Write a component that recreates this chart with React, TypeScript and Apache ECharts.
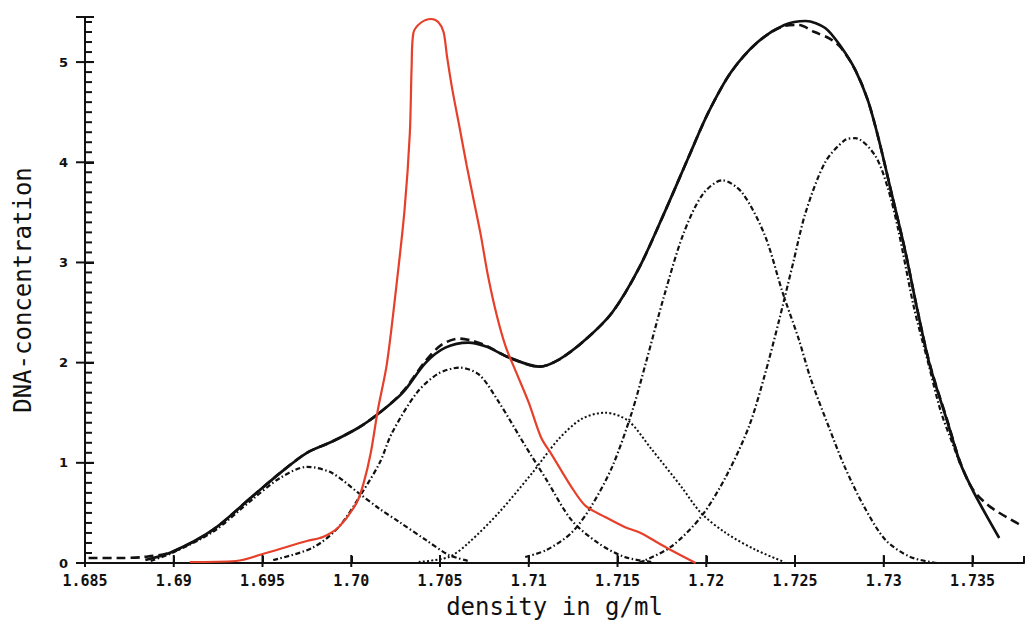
import React, { useEffect, useRef } from "react";
import * as echarts from "echarts";

// ---- axis setup ----
const X_MIN = 1.685;
const X_MAX = 1.7379;
const Y_MIN = 0;
const Y_MAX = 5.45;
const Y_MINOR_STEP = 0.1;
const xTicks = [1.685, 1.69, 1.695, 1.7, 1.705, 1.71, 1.715, 1.72, 1.725, 1.73, 1.735];
const xTickLabels = ["1.685", "1.69", "1.695", "1.70", "1.705", "1.71", "1.715", "1.72", "1.725", "1.73", "1.735"];
const yTickLabels = ["0", "1", "2", "3", "4", "5"];

// ---- curves: [density g/ml, DNA concentration] ----
const observedProfile = [
  [1.6884, 0.03], [1.6899, 0.11], [1.6922, 0.33], [1.6944, 0.66], [1.696, 0.9], [1.6975, 1.1],
  [1.6989, 1.21], [1.7004, 1.35], [1.7016, 1.5], [1.7029, 1.7], [1.7042, 2.0], [1.7053, 2.15],
  [1.7066, 2.2], [1.7076, 2.16], [1.7089, 2.05], [1.7106, 1.96], [1.7117, 2.03], [1.7132, 2.23],
  [1.7147, 2.5], [1.7162, 2.94], [1.7177, 3.52], [1.719, 4.05], [1.7201, 4.49], [1.7214, 4.90],
  [1.7229, 5.20], [1.7244, 5.37], [1.7256, 5.41], [1.7267, 5.34], [1.7276, 5.15], [1.7284, 4.92],
  [1.7291, 4.62], [1.7297, 4.24], [1.7304, 3.72], [1.7312, 3.12], [1.7319, 2.52], [1.7326, 1.97],
  [1.7336, 1.4], [1.7343, 1.0], [1.735, 0.73], [1.7357, 0.5], [1.7365, 0.25],
];

const fittedSum = [
  [1.6852, 0.05], [1.6868, 0.05], [1.6883, 0.06], [1.6899, 0.11], [1.6922, 0.33], [1.6944, 0.66],
  [1.696, 0.9], [1.6975, 1.1], [1.6989, 1.21], [1.7004, 1.35], [1.7016, 1.5], [1.7029, 1.71],
  [1.7042, 2.02], [1.7051, 2.18], [1.7061, 2.24], [1.7068, 2.22], [1.7076, 2.17], [1.7089, 2.05],
  [1.7106, 1.96], [1.7117, 2.03], [1.7132, 2.23], [1.7147, 2.5], [1.7162, 2.94], [1.7177, 3.52],
  [1.719, 4.05], [1.7201, 4.49], [1.7214, 4.9], [1.7229, 5.2], [1.7244, 5.36], [1.7252, 5.37],
  [1.7261, 5.3], [1.727, 5.23], [1.7276, 5.14], [1.7284, 4.92], [1.7291, 4.62], [1.7297, 4.24],
  [1.7304, 3.72], [1.7312, 3.12], [1.7319, 2.52], [1.7326, 1.98], [1.7336, 1.41], [1.7343, 1.01],
  [1.735, 0.74], [1.736, 0.56], [1.7377, 0.38],
];

const component1 = [
  [1.6887, 0.02], [1.6899, 0.1], [1.6922, 0.31], [1.6944, 0.63], [1.696, 0.85], [1.6975, 0.96],
  [1.6989, 0.9], [1.7004, 0.7], [1.7016, 0.54], [1.7027, 0.41], [1.7042, 0.23], [1.7055, 0.08],
  [1.7066, 0.02],
];

const component2 = [
  [1.6956, 0.03], [1.6978, 0.15], [1.6993, 0.36], [1.7006, 0.7], [1.7016, 1.0], [1.7023, 1.3],
  [1.7037, 1.7], [1.7049, 1.89], [1.7061, 1.95], [1.7072, 1.88], [1.7083, 1.61], [1.7098, 1.17],
  [1.711, 0.83], [1.7124, 0.43], [1.7139, 0.2], [1.7154, 0.06], [1.7169, 0.01],
];

const component3 = [
  [1.7038, 0.01], [1.7055, 0.06], [1.7066, 0.2], [1.7083, 0.5], [1.7102, 0.9], [1.7117, 1.24],
  [1.713, 1.44], [1.7143, 1.5], [1.7156, 1.42], [1.7169, 1.14], [1.7186, 0.76], [1.7197, 0.5],
  [1.7211, 0.3], [1.7228, 0.13], [1.7244, 0.01],
];

const component4 = [
  [1.7098, 0.06], [1.711, 0.13], [1.7124, 0.3], [1.7135, 0.56], [1.7147, 0.96], [1.7158, 1.5],
  [1.7166, 2.0], [1.7176, 2.65], [1.7187, 3.28], [1.7198, 3.68], [1.7209, 3.82], [1.722, 3.7],
  [1.7233, 3.27], [1.7243, 2.7], [1.7252, 2.24], [1.7259, 1.83], [1.7269, 1.36], [1.7278, 0.96],
  [1.7289, 0.56], [1.7301, 0.23], [1.7315, 0.06], [1.733, 0.0],
];

const component5 = [
  [1.7162, 0.0], [1.718, 0.16], [1.7197, 0.46], [1.7211, 0.86], [1.7224, 1.36], [1.7233, 1.88],
  [1.7241, 2.42], [1.7249, 3.0], [1.7256, 3.5], [1.7267, 4.0], [1.7278, 4.22], [1.7284, 4.24],
  [1.7295, 4.07], [1.7302, 3.76], [1.7308, 3.34], [1.7317, 2.55], [1.7325, 2.0], [1.7332, 1.52],
  [1.7339, 1.18], [1.7343, 0.99],
];

const redProfile = [
  [1.6909, 0.01], [1.6935, 0.02], [1.6952, 0.1], [1.6975, 0.22], [1.6984, 0.26], [1.6993, 0.36],
  [1.7003, 0.6], [1.7007, 0.8], [1.7011, 1.1], [1.7015, 1.53], [1.702, 1.98], [1.7025, 2.7],
  [1.703, 3.52], [1.7033, 4.29], [1.7034, 4.95], [1.7035, 5.29], [1.7039, 5.39], [1.7045, 5.43],
  [1.7049, 5.4], [1.7052, 5.3], [1.7054, 5.05], [1.7057, 4.72], [1.7061, 4.35], [1.7065, 3.97],
  [1.7069, 3.62], [1.7073, 3.27], [1.7077, 2.87], [1.7082, 2.47], [1.7087, 2.16], [1.7093, 1.9],
  [1.71, 1.6], [1.7107, 1.25], [1.7113, 1.08], [1.7124, 0.76], [1.7132, 0.57], [1.7143, 0.46],
  [1.7154, 0.36], [1.7163, 0.3], [1.7173, 0.2], [1.718, 0.13], [1.7194, 0.0],
];

const INK = "#111111";
const RED = "#e6402a";

function xLabel(v: number): string {
  const i = xTicks.findIndex((t) => Math.abs(t - v) < 1e-7);
  return i >= 0 ? xTickLabels[i] : "";
}
function yLabel(v: number): string {
  const i = Math.round(v);
  return Math.abs(v - i) < 1e-7 && i >= 0 && i < yTickLabels.length ? yTickLabels[i] : "";
}

export default function App() {
  const ref = useRef<HTMLDivElement>(null);
  useEffect(() => {
    if (!ref.current) return;
    const chart = echarts.init(ref.current, undefined, { renderer: "svg" });
    const lineSeries = (name: string, data: number[][], style: any, z: number) => ({
      name,
      type: "line",
      data,
      showSymbol: false,
      symbol: "none",
      smooth: 0.3,
      silent: true,
      z,
      lineStyle: style,
    });

    // tick positions on the axes (placed by the axes' own scales)
    const yMajorTicks: number[][] = [];
    const yMinorTicks: number[][] = [];
    const nMinor = Math.floor((Y_MAX - Y_MIN) / Y_MINOR_STEP + 1e-9);
    for (let i = 0; i <= nMinor; i++) {
      const v = Math.round((Y_MIN + i * Y_MINOR_STEP) * 10) / 10;
      if (i % 10 === 0) yMajorTicks.push([X_MIN, v]);
      else yMinorTicks.push([X_MIN, v]);
    }
    yMajorTicks.push([X_MIN, Y_MAX]);
    const xTickData = xTicks.map((t) => [t, Y_MIN]);

    const tickSeries = (name: string, data: number[][], size: number[], offset: number[]) => ({
      type: "scatter",
      name,
      data,
      symbol: "rect",
      symbolSize: size,
      symbolOffset: offset,
      itemStyle: { color: INK, opacity: 1 },
      silent: true,
      clip: false,
      z: 6,
    });

    const dashDot = [5, 2.5, 1.5, 2.5];
    chart.setOption({
      animation: false,
      backgroundColor: "#ffffff",
      grid: { left: 85, top: 17, width: 942, height: 546 },
      xAxis: {
        type: "value",
        min: X_MIN,
        max: X_MAX,
        interval: 0.005,
        axisLine: { show: true, onZero: false, lineStyle: { color: INK, width: 2 } },
        axisTick: { show: true, inside: true, length: 7, lineStyle: { color: INK, width: 2 } },
        axisLabel: {
          formatter: xLabel,
          margin: 10,
          color: INK,
          fontFamily: "DejaVu Sans Mono",
          fontWeight: "bold",
          fontSize: 15,
        },
        splitLine: { show: false },
        name: "density in g/ml",
        nameLocation: "middle",
        nameGap: 32,
        nameTextStyle: { color: INK, fontFamily: "DejaVu Sans Mono", fontSize: 24 },
      },
      yAxis: {
        type: "value",
        min: Y_MIN,
        max: Y_MAX,
        interval: 1,
        axisLine: { show: true, onZero: false, lineStyle: { color: INK, width: 2 } },
        axisTick: { show: true, inside: true, length: 9, lineStyle: { color: INK, width: 2 } },
        axisLabel: {
          formatter: yLabel,
          margin: 17,
          color: INK,
          fontFamily: "DejaVu Sans",
          fontWeight: "bold",
          fontSize: 13,
        },
        splitLine: { show: false },
        name: "DNA-concentration",
        nameLocation: "middle",
        nameRotate: 90,
        nameGap: 50,
        nameTextStyle: { color: INK, fontFamily: "DejaVu Sans Mono", fontSize: 24 },
      },
      series: [
        lineSeries("component 1", component1, { color: INK, width: 2.2, type: dashDot }, 2),
        lineSeries("component 2", component2, { color: INK, width: 2.2, type: dashDot }, 2),
        lineSeries("component 3", component3, { color: INK, width: 2, type: [2, 2.2] }, 2),
        lineSeries("component 4", component4, { color: INK, width: 2.2, type: dashDot }, 2),
        lineSeries("component 5", component5, { color: INK, width: 2.2, type: dashDot }, 2),
        lineSeries("fitted sum", fittedSum, { color: INK, width: 2.6, type: [9, 5] }, 3),
        lineSeries("observed", observedProfile, { color: INK, width: 2.7, type: "solid" }, 4),
        lineSeries("second sample", redProfile, { color: RED, width: 2.2, type: "solid" }, 5),
        tickSeries("y major ticks", yMajorTicks, [18, 2], [0, 0]),
        tickSeries("y minor ticks", yMinorTicks, [8, 2], [3, 0]),
        tickSeries("x ticks", xTickData, [2, 12], [0, -2]),
      ],
    });
    return () => chart.dispose();
  }, []);
  return (
    <div
      ref={ref}
      style={{ position: "fixed", left: 0, top: 0, width: 1027, height: 632, background: "#fff" }}
    />
  );
}
